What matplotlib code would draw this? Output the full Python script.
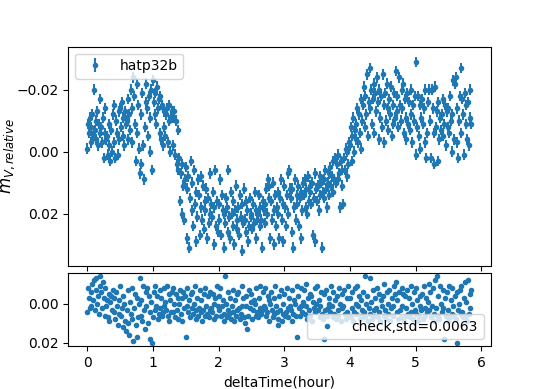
import matplotlib
matplotlib.use("Agg")
import matplotlib.pyplot as plt
import numpy as np

# observation times, seconds from start
time_s = [
    0, 45, 90, 135, 180, 225, 270, 315,
    360, 405, 450, 495, 540, 585, 630, 675,
    720, 765, 810, 855, 900, 945, 990, 1035,
    1080, 1125, 1170, 1215, 1260, 1305, 1350, 1395,
    1440, 1485, 1530, 1575, 1620, 1665, 1710, 1755,
    1800, 1845, 1890, 1935, 1980, 2025, 2070, 2115,
    2160, 2205, 2250, 2295, 2340, 2385, 2430, 2475,
    2520, 2565, 2610, 2655, 2700, 2745, 2790, 2835,
    2880, 2925, 2970, 3015, 3060, 3105, 3150, 3195,
    3240, 3285, 3330, 3375, 3420, 3465, 3510, 3555,
    3600, 3645, 3690, 3735, 3780, 3825, 3870, 3915,
    3960, 4005, 4050, 4095, 4140, 4185, 4230, 4275,
    4320, 4365, 4410, 4455, 4500, 4545, 4590, 4635,
    4680, 4725, 4770, 4815, 4860, 4905, 4950, 4995,
    5040, 5085, 5130, 5175, 5220, 5265, 5310, 5355,
    5400, 5445, 5490, 5535, 5580, 5625, 5670, 5715,
    5760, 5805, 5850, 5895, 5940, 5985, 6030, 6075,
    6120, 6165, 6210, 6255, 6300, 6345, 6390, 6435,
    6480, 6525, 6570, 6615, 6660, 6705, 6750, 6795,
    6840, 6885, 6930, 6975, 7020, 7065, 7110, 7155,
    7200, 7245, 7290, 7335, 7380, 7425, 7470, 7515,
    7560, 7605, 7650, 7695, 7740, 7785, 7830, 7875,
    7920, 7965, 8010, 8055, 8100, 8145, 8190, 8235,
    8280, 8325, 8370, 8415, 8460, 8505, 8550, 8595,
    8640, 8685, 8730, 8775, 8820, 8865, 8910, 8955,
    9000, 9045, 9090, 9135, 9180, 9225, 9270, 9315,
    9360, 9405, 9450, 9495, 9540, 9585, 9630, 9675,
    9720, 9765, 9810, 9855, 9900, 9945, 9990, 10035,
    10080, 10125, 10170, 10215, 10260, 10305, 10350, 10395,
    10440, 10485, 10530, 10575, 10620, 10665, 10710, 10755,
    10800, 10845, 10890, 10935, 10980, 11025, 11070, 11115,
    11160, 11205, 11250, 11295, 11340, 11385, 11430, 11475,
    11520, 11565, 11610, 11655, 11700, 11745, 11790, 11835,
    11880, 11925, 11970, 12015, 12060, 12105, 12150, 12195,
    12240, 12285, 12330, 12375, 12420, 12465, 12510, 12555,
    12600, 12645, 12690, 12735, 12780, 12825, 12870, 12915,
    12960, 13005, 13050, 13095, 13140, 13185, 13230, 13275,
    13320, 13365, 13410, 13455, 13500, 13545, 13590, 13635,
    13680, 13725, 13770, 13815, 13860, 13905, 13950, 13995,
    14040, 14085, 14130, 14175, 14220, 14265, 14310, 14355,
    14400, 14445, 14490, 14535, 14580, 14625, 14670, 14715,
    14760, 14805, 14850, 14895, 14940, 14985, 15030, 15075,
    15120, 15165, 15210, 15255, 15300, 15345, 15390, 15435,
    15480, 15525, 15570, 15615, 15660, 15705, 15750, 15795,
    15840, 15885, 15930, 15975, 16020, 16065, 16110, 16155,
    16200, 16245, 16290, 16335, 16380, 16425, 16470, 16515,
    16560, 16605, 16650, 16695, 16740, 16785, 16830, 16875,
    16920, 16965, 17010, 17055, 17100, 17145, 17190, 17235,
    17280, 17325, 17370, 17415, 17460, 17505, 17550, 17595,
    17640, 17685, 17730, 17775, 17820, 17865, 17910, 17955,
    18000, 18045, 18090, 18135, 18180, 18225, 18270, 18315,
    18360, 18405, 18450, 18495, 18540, 18585, 18630, 18675,
    18720, 18765, 18810, 18855, 18900, 18945, 18990, 19035,
    19080, 19125, 19170, 19215, 19260, 19305, 19350, 19395,
    19440, 19485, 19530, 19575, 19620, 19665, 19710, 19755,
    19800, 19845, 19890, 19935, 19980, 20025, 20070, 20115,
    20160, 20205, 20250, 20295, 20340, 20385, 20430, 20475,
    20520, 20565, 20610, 20655, 20700, 20745, 20790, 20835,
    20880, 20925, 20970, 21015, 21060,
]

# relative magnitude of hatp32b, millimag
target_mmag = [
    -1, -9, -6, -11, -3, -8, -12, -5,
    -20, -7, -10, -4, -13, -2, -9, -6,
    -17, -8, -3, -11, 2, -6, -14, -4,
    -5, 1, -9, -2, 3, -7, 0, -12,
    -15, -3, 2, -10, -6, 1, -13, -4,
    -14, -8, -16, -5, -11, -2, -13, -9,
    -10, -17, -4, -12, -7, -20, -3, -14,
    -24, -18, -9, 3, -22, -6, -15, -1,
    7, -12, 4, -19, -2, 9, -8, -16,
    -22, -14, -5, -18, 0, -11, -20, 6,
    -23, -16, -12, -19, -9, -21, -14, -17,
    -18, -6, -4, -15, -2, -8, -13, -5,
    -12, -14, -3, -10, -15, 0, -11, -13,
    -11, -2, -13, 1, -10, 4, -7, 6,
    2, 16, 7, 20, 4, 11, 22, 9,
    5, 28, 12, 8, 31, 15, 3, 19,
    10, 24, 6, 17, 29, 13, 21, 9,
    14, 27, 18, 8, 22, 11, 25, 16,
    19, 12, 28, 15, 23, 7, 20, 17,
    21, 13, 30, 18, 6, 24, 16, 26,
    17, 22, 9, 27, 14, 19, 31, 20,
    23, 15, 18, 26, 6, 21, 28, 13,
    20, 24, 16, 30, 19, 11, 22, 25,
    18, 27, 14, 21, 32, 17, 23, 12,
    22, 16, 26, 19, 29, 24, 15, 20,
    21, 25, 17, 23, 13, 19, 28, 22,
    20, 14, 24, 18, 22, 31, 16, 19,
    17, 23, 12, 20, 9, 15, 11, 28,
    16, 22, 10, 19, 30, 14, 24, 18,
    13, 20, 28, 15, 9, 22, 17, 29,
    11, 18, 24, 14, 7, 20, 6, 12,
    15, 26, 12, 31, 18, 9, 22, 14,
    17, 11, 24, 15, 28, 13, 19, 10,
    14, 9, 18, 12, 20, 8, 16, 11,
    13, 17, 10, 27, 15, 7, 29, 12,
    16, 11, 19, 8, 14, 10, 31, 13,
    9, 15, 6, 12, 18, 10, 7, 14,
    5, 11, 8, 3, 13, 9, 2, 10,
    4, 9, 1, 7, 18, 3, 11, 6,
    17, 2, 6, -1, 8, 0, 4, -3,
    -2, -8, 3, -5, -11, 0, -7, -4,
    -9, -14, -3, -12, -6, -17, -1, -10,
    -15, -21, -8, -18, -12, -25, -5, -16,
    -27, -14, -20, -9, -17, -22, -6, -19,
    -13, -24, -16, -4, -20, -11, -18, -8,
    -25, -15, -3, -19, -10, -22, -7, -14,
    -17, -12, -21, -5, -15, -9, -19, -11,
    -26, -13, -18, -8, -24, -15, -10, -20,
    -14, -22, -6, -17, -11, -4, -19, -9,
    -16, -7, -20, -12, -3, -15, -10, -18,
    -29, 1, -8, -18, -5, -15, -1, -11,
    -17, -9, -14, -3, -20, 2, -6, -16,
    -20, -20, -10, 2, -20, -14, -6, 4,
    -21, -8, -13, 3, -16, -4, -11, -7,
    -12, -17, -5, -9, -15, -2, -13, -8,
    -14, -6, -18, -10, 0, -12, -23, -4,
    -22, -24, -3, -14, 2, -10, -18, -6,
    -27, -17, -12, 1, -19, -9, -15, -4,
    -16, -2, -11, -20, -9,
]

# check star, millimag
check_mmag = [
    4, -8, -3, 2, -6, 1, -10, -2,
    -12, 3, -7, -13, 0, -4, 5, -9,
    -14, -6, 2, -11, -3, 6, -8, 1,
    -2, 7, -5, 9, -1, -4, 3, -7,
    4, -3, 8, -6, 1, 11, -2, 5,
    -9, 6, 2, 12, -4, 0, 9, 14,
    3, -7, 10, 16, -1, 5, -8, 8,
    19, 2, -5, 11, 17, -3, 7, 0,
    -13, 6, -2, 9, -9, 3, 13, -6,
    1, -8, 10, -4, 4, 18, -1, 20,
    7, -6, 3, -9, 1, -4, 8, 5,
    -7, 2, -3, 6, 4, -8, 1, -1,
    3, -9, 6, -5, 9, -2, 4, -6,
    -8, 4, 0, 7, -5, 3, -3, 8,
    0, -7, 5, -3, 9, -6, 2, -4,
    17, 1, -8, 4, -2, 7, -5, 2,
    -6, 5, 0, -9, 3, 8, -3, 6,
    2, -7, 4, -2, 9, 3, -5, 6,
    -8, 1, 5, -4, 7, 3, -6, 2,
    4, -5, 8, 0, -3, 6, -9, 1,
    -4, 3, -8, 6, 1, -2, 9, 5,
    -14, 0, 7, -6, 3, 5, -3, 8,
    1, -7, 4, 9, -2, 6, -5, 3,
    -6, 2, 8, 5, -9, 1, -3, 7,
    10, -4, 1, 13, 6, -7, 2, -1,
    -5, 8, 3, -2, 0, 6, -8, 4,
    7, -3, 2, -9, 5, 3, -6, 1,
    2, -8, 6, 4, -4, 9, -2, 0,
    -6, 3, 7, -3, 5, -9, 1, 4,
    8, 11, -4, 3, -7, 9, 0, 5,
    -5, 6, 4, -8, 2, 7, -3, 1,
    3, -7, 9, 5, -2, 0, 6, -9,
    17, -4, 2, 6, -8, 1, 4, -1,
    -7, 5, -10, 1, 8, -3, 3, -5,
    6, -4, 9, -1, 2, -8, 4, 0,
    -9, 3, -2, 7, 1, -6, 5, 8,
    18, -5, 3, -7, 6, 2, -3, 0,
    4, -9, 1, 7, -6, 5, -2, 8,
    -4, 6, 3, -8, 0, 9, -5, 2,
    1, -7, 5, 8, -3, 4, -9, 6,
    -3, 7, 2, -6, 9, 4, -8, 0,
    5, -9, 1, -4, 8, -2, 6, 3,
    -6, 4, -14, 7, 0, -4, 9, 2,
    -13, 5, -1, 8, -7, 3, 6, -3,
    2, -8, 7, -5, 4, 9, -2, 1,
    -4, 6, -10, 3, 8, -6, 0, 5,
    -7, 9, 2, -3, 6, 1, -9, -5,
    -11, 4, -2, 8, -6, 3, 7, -8,
    1, -5, 9, -4, 6, 2, -7, 5,
    -3, 7, 4, -9, 0, 8, -6, 3,
    -8, 5, -2, 9, 6, -4, 1, 3,
    -5, 8, -9, 2, 6, -3, 4, -1,
    -10, 3, -6, 7, 1, -8, 5, 9,
    -12, 2, -14, 6, -4, 8, -9, 0,
    4, -7, 2, 18, -3, 6, -6, 9,
    3, -9, 7, -2, 5, -8, 1, 6,
    -4, 8, 20, -6, 3, 0, -7, 5,
    -9, 4, 7, -3, -11, 6, -1, 9,
    -12, 5, -5, 2, -7,
]

target_err = 0.0017
check_label = "check,std=0.0063"

hours = np.asarray(time_s) / 3600.0
target = np.asarray(target_mmag) / 1000.0
check = np.asarray(check_mmag) / 1000.0

fig = plt.figure(figsize=(5.45, 3.89), dpi=100)
gs = fig.add_gridspec(2, 1, height_ratios=[3, 1], hspace=0.05)
ax1 = fig.add_subplot(gs[0])
ax2 = fig.add_subplot(gs[1], sharex=ax1)

ax1.errorbar(hours, target, yerr=target_err, fmt=".", label="hatp32b")
ax1.invert_yaxis()
ax1.set_ylabel("$m_{V,relative}$", fontsize=12)
# keep the label inside the figure
ax1.yaxis.set_label_coords(-0.122, 0.5)
ax1.legend(loc="upper left")
ax1.tick_params(labelbottom=False)

ax2.plot(hours, check, ".", label=check_label)
ax2.invert_yaxis()
ax2.set_xlabel("deltaTime(hour)")
ax2.legend(loc="lower right")

fig.savefig("out.png", dpi=100)
